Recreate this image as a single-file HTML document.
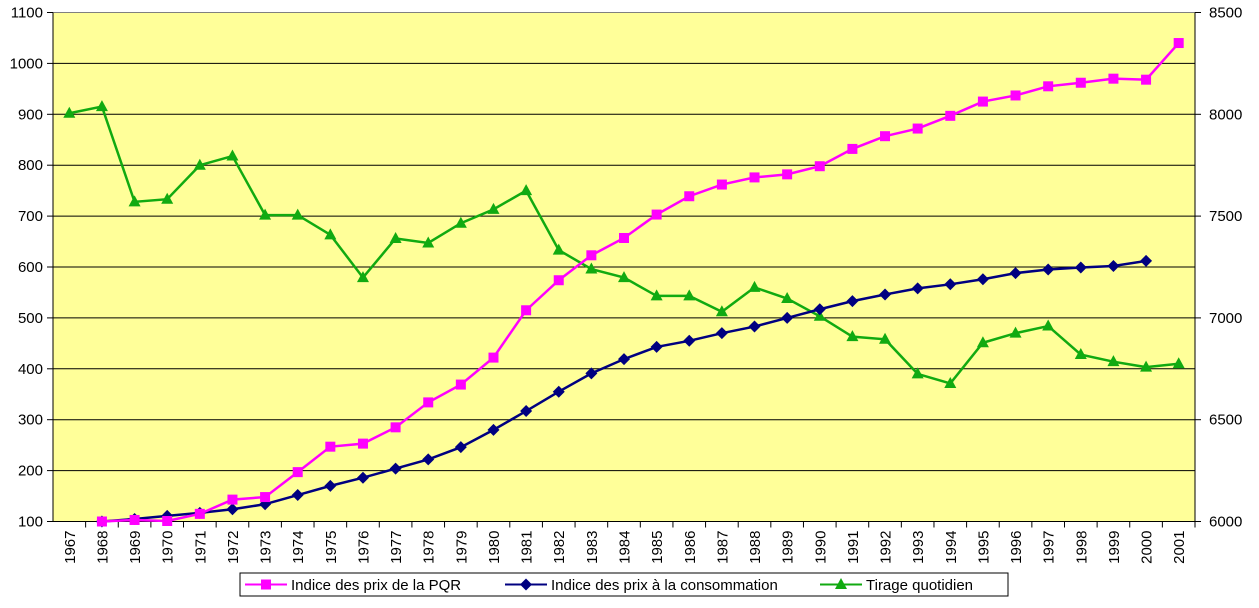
<!DOCTYPE html>
<html><head><meta charset="utf-8"><style>
body{margin:0;background:#fff;width:1259px;height:603px;overflow:hidden}
text{font-family:"Liberation Sans",sans-serif;fill:#000}
</style></head><body>
<svg id="chart" width="1259" height="603" xmlns="http://www.w3.org/2000/svg"></svg>
<script>
const categories=[1967,1968,1969,1970,1971,1972,1973,1974,1975,1976,1977,1978,1979,1980,1981,1982,1983,1984,1985,1986,1987,1988,1989,1990,1991,1992,1993,1994,1995,1996,1997,1998,1999,2000,2001];
const pqr=[null,100,103,101,115,143,148,197,247,253,285,334,369,422,515,574,623,657,703,739,762,776,782,798,832,857,872,897,925,937,955,962,970,968,1040];
const cpi=[null,100,105,111,117,124,134,152,170,186,204,222,246,280,317,355,391,419,443,455,470,483,500,517,533,546,558,566,576,588,595,599,602,612,null];
const tirage=[8005,8038,7570,7583,7750,7795,7505,7505,7408,7198,7390,7368,7465,7533,7625,7333,7240,7198,7108,7108,7030,7150,7095,7008,6908,6895,6725,6678,6878,6925,6960,6820,6785,6758,6775];
const leftTicks=[100,200,300,400,500,600,700,800,900,1000,1100];
const rightTicks=[6000,6500,7000,7500,8000,8500];
const NS="http://www.w3.org/2000/svg",svg=document.getElementById('chart');
const L=53,R=1195,T=12.5,B=521.5,cw=(R-L)/categories.length;
const xs=i=>L+cw*(i+0.5);
const yl=v=>B-(v-100)/1000*(B-T);
const yr=v=>B-(v-6000)/2500*(B-T);
function mk(t,a,p){const e=document.createElementNS(NS,t);for(const k in a)e.setAttribute(k,a[k]);(p||svg).appendChild(e);return e;}
let e=mk('rect',{x:L,y:T,width:R-L,height:B-T,fill:'#ffff99'});


leftTicks.forEach(v=>{
 const y=yl(v);
 if(v>100){const g=mk('line',{x1:L,x2:R,y1:y,y2:y,stroke:v==1100?'#808080':'#000','stroke-width':1});
 
 }
 mk('line',{x1:L-6,x2:L,y1:y,y2:y,stroke:'#000'});
 const t=mk('text',{x:L-10,y:y+5,'text-anchor':'end','font-size':15});t.textContent=v;
 
 
});
rightTicks.forEach(v=>{
 const y=yr(v);
 mk('line',{x1:R,x2:R+6,y1:y,y2:y,stroke:'#000'});
 const t=mk('text',{x:R+14,y:y+5,'font-size':15});t.textContent=v;
 
 
});
mk('line',{x1:L,x2:L,y1:T,y2:B,stroke:'#000'});
mk('line',{x1:R,x2:R,y1:T,y2:B,stroke:'#000'});
mk('line',{x1:L,x2:R,y1:B,y2:B,stroke:'#000'});
categories.forEach((c,i)=>{
 mk('line',{x1:L+cw*(i+1),x2:L+cw*(i+1),y1:B,y2:B+6,stroke:'#000'});
 const x=xs(i)+5.5,y=B+9;
 const t=mk('text',{x:x,y:y,'text-anchor':'end','font-size':15,transform:`rotate(-90 ${x} ${y})`});t.textContent=c;
 
 
});
function series(arr,yf,color,marker,name){
 const g=mk('g',{});
 
 
 let d='';arr.forEach((v,i)=>{if(v==null)return;d+=(d?'L':'M')+xs(i)+','+yf(v);});
 mk('path',{d:d,fill:'none',stroke:color,'stroke-width':2.5},g);
 arr.forEach((v,i)=>{if(v==null)return;drawMarker(g,marker,xs(i),yf(v),color);});
}
function drawMarker(g,m,x,y,c){
 if(m=='sq')mk('rect',{x:x-5,y:y-5,width:10,height:10,fill:c},g);
 else if(m=='dia')mk('polygon',{points:`${x},${y-6} ${x+6},${y} ${x},${y+6} ${x-6},${y}`,fill:c},g);
 else mk('polygon',{points:`${x},${y-6.5} ${x+6},${y+4.5} ${x-6},${y+4.5}`,fill:c},g);
}
series(tirage,yr,'#11aa11','tri','series-tirage');
series(cpi,yl,'#000080','dia','series-cpi');
series(pqr,yl,'#ff00ff','sq','series-pqr');
const lg=mk('g',{});


mk('rect',{x:240,y:573,width:768,height:23,fill:'#fff',stroke:'#000'},lg);
const items=[['Indice des prix de la PQR','#ff00ff','sq',245],['Indice des prix à la consommation','#000080','dia',505],['Tirage quotidien','#11aa11','tri',820]];
items.forEach(it=>{
 const g=mk('g',{},lg);
 
 
 mk('line',{x1:it[3],x2:it[3]+42,y1:584.5,y2:584.5,stroke:it[1],'stroke-width':2},g);
 drawMarker(g,it[2],it[3]+21,584.5,it[1]);
 const t=mk('text',{x:it[3]+46,y:590,'font-size':15},g);t.textContent=it[0];
});
</script>
</body></html>
